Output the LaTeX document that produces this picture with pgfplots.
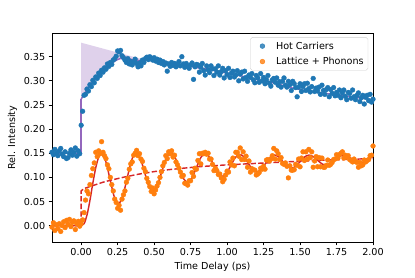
\documentclass[border=0pt]{standalone}
\usepackage{fontspec}
\setmainfont{DejaVu Sans}
\usepackage{pgfplots}
\pgfplotsset{compat=1.18}
\definecolor{tabblue}{HTML}{1F77B4}
\definecolor{taborange}{HTML}{FF7F0E}
\definecolor{tabred}{HTML}{D62728}
\definecolor{tabpurple}{HTML}{9467BD}
\begin{document}
\begin{tikzpicture}
\begin{axis}[
  scale only axis, width=334.2pt, height=217.6pt,
  xmin=-0.2, xmax=2.0, ymin=-0.034, ymax=0.399,
  xtick={0,0.25,0.5,0.75,1,1.25,1.5,1.75,2},
  ytick={0,0.05,0.1,0.15,0.2,0.25,0.3,0.35},
  tick align=outside, major tick length=3.5pt,
  tick style={black, line width=0.8pt},
  xtick pos=bottom, ytick pos=left,
  axis line style={black, line width=0.8pt},
  xticklabel style={/pgf/number format/fixed, /pgf/number format/fixed zerofill, /pgf/number format/precision=2, /pgf/number format/assume math mode=true},
  yticklabel style={/pgf/number format/fixed, /pgf/number format/fixed zerofill, /pgf/number format/precision=2, /pgf/number format/assume math mode=true},
  tick label style={font=\fontsize{10}{12}\selectfont},
  label style={font=\fontsize{10}{12}\selectfont},
  xlabel={Time Delay (ps)}, ylabel={Rel. Intensity},
  legend style={at={(0.985,0.98)}, anchor=north east, draw=black!20, rounded corners=2pt,
    fill=white, fill opacity=0.8, text opacity=1, font=\fontsize{10}{12}\selectfont,
    inner sep=2.5pt, row sep=3pt},
  legend cell align=left,
  legend image code/.code={\path (0pt,0pt) (22pt,0pt); \draw[#1] plot coordinates {(10pt,0pt)};},
]
% shaded region
\addplot[fill=tabpurple, fill opacity=0.3, draw=none, forget plot] coordinates {
(0,0.379)(0.43,0.344)(0.40,0.342)(0.35,0.344)(0.31,0.347)(0.28,0.347)(0.25,0.344)(0.22,0.339)(0.19,0.333)(0.16,0.325)(0.13,0.316)(0.10,0.306)(0.08,0.298)(0.06,0.290)(0.04,0.282)(0.02,0.272)(0,0.262)} -- cycle;

% Hot carriers
\addplot[only marks, mark=*, mark size=2.5pt, color=tabblue] coordinates {
(-0.20,0.152)(-0.19,0.147)(-0.18,0.158)(-0.17,0.150)(-0.16,0.145)(-0.15,0.155)(-0.14,0.160)(-0.13,0.148)(-0.12,0.143)(-0.11,0.153)(-0.10,0.139)(-0.09,0.141)(-0.08,0.150)(-0.07,0.157)(-0.06,0.146)(-0.05,0.152)(-0.04,0.161)(-0.03,0.144)(-0.02,0.155)(-0.01,0.149)
(0.00,0.208)(0.01,0.237)(0.02,0.270)(0.03,0.272)(0.04,0.283)(0.05,0.279)(0.06,0.292)(0.07,0.288)(0.08,0.301)(0.09,0.296)
(0.10,0.308)(0.11,0.305)(0.12,0.316)(0.13,0.311)(0.14,0.322)(0.15,0.318)(0.16,0.327)(0.17,0.324)(0.18,0.335)(0.19,0.330)
(0.20,0.338)(0.21,0.334)(0.22,0.343)(0.23,0.346)(0.24,0.351)(0.25,0.362)(0.26,0.360)(0.27,0.363)(0.28,0.352)(0.29,0.348)
(0.30,0.343)(0.31,0.338)(0.32,0.346)(0.33,0.335)(0.34,0.340)(0.35,0.333)(0.36,0.339)(0.37,0.345)(0.38,0.336)(0.39,0.329)
(0.40,0.337)(0.41,0.331)(0.42,0.343)(0.43,0.338)(0.44,0.346)(0.45,0.349)(0.46,0.344)(0.47,0.350)(0.48,0.347)(0.49,0.343)
(0.50,0.348)(0.51,0.341)(0.52,0.345)(0.53,0.338)(0.54,0.343)(0.55,0.336)(0.56,0.340)(0.57,0.333)(0.58,0.337)(0.59,0.320)
(0.60,0.335)(0.61,0.330)(0.62,0.338)(0.63,0.332)(0.64,0.336)(0.65,0.329)(0.66,0.334)(0.67,0.340)(0.68,0.331)(0.69,0.350)
(0.70,0.335)(0.71,0.328)(0.72,0.336)(0.73,0.330)(0.74,0.326)(0.75,0.333)(0.76,0.337)(0.77,0.303)(0.78,0.329)(0.79,0.334)
(0.80,0.333)(0.81,0.318)(0.82,0.328)(0.83,0.336)(0.84,0.321)(0.85,0.312)(0.86,0.331)(0.87,0.323)(0.88,0.317)(0.89,0.331)
(0.90,0.325)(0.91,0.311)(0.92,0.325)(0.93,0.318)(0.94,0.331)(0.95,0.312)(0.96,0.319)(0.97,0.326)(0.98,0.306)(0.99,0.321)
(1.00,0.313)(1.01,0.326)(1.02,0.307)(1.03,0.316)(1.04,0.320)(1.05,0.308)(1.06,0.312)(1.07,0.321)(1.08,0.300)(1.09,0.314)
(1.10,0.318)(1.11,0.304)(1.12,0.320)(1.13,0.307)(1.14,0.299)(1.15,0.312)(1.16,0.307)(1.17,0.315)(1.18,0.302)(1.19,0.296)
(1.20,0.311)(1.21,0.306)(1.22,0.297)(1.23,0.315)(1.24,0.300)(1.25,0.307)(1.26,0.294)(1.27,0.302)(1.28,0.311)(1.29,0.295)
(1.30,0.289)(1.31,0.302)(1.32,0.305)(1.33,0.297)(1.34,0.306)(1.35,0.291)(1.36,0.298)(1.37,0.287)(1.38,0.299)(1.39,0.306)
(1.40,0.291)(1.41,0.287)(1.42,0.299)(1.43,0.292)(1.44,0.280)(1.45,0.299)(1.46,0.294)(1.47,0.286)(1.48,0.267)(1.49,0.287)
(1.50,0.294)(1.51,0.278)(1.52,0.288)(1.53,0.294)(1.54,0.280)(1.55,0.295)(1.56,0.284)(1.57,0.277)(1.58,0.288)(1.59,0.305)
(1.60,0.278)(1.61,0.285)(1.62,0.279)(1.63,0.287)(1.64,0.272)(1.65,0.291)(1.66,0.280)(1.67,0.272)(1.68,0.282)(1.69,0.286)
(1.70,0.267)(1.71,0.282)(1.72,0.274)(1.73,0.286)(1.74,0.269)(1.75,0.276)(1.76,0.270)(1.77,0.281)(1.78,0.265)(1.79,0.275)
(1.80,0.281)(1.81,0.268)(1.82,0.261)(1.83,0.276)(1.84,0.274)(1.85,0.264)(1.86,0.281)(1.87,0.267)(1.88,0.261)(1.89,0.270)
(1.90,0.275)(1.91,0.257)(1.92,0.265)(1.93,0.270)(1.94,0.252)(1.95,0.266)(1.96,0.270)(1.97,0.259)(1.98,0.272)(1.99,0.256)(2.00,0.262)};
\addlegendentry{Hot Carriers}

% Lattice + Phonons
\addplot[only marks, mark=*, mark size=2.5pt, color=taborange] coordinates {
(-0.20,-0.003)(-0.19,0.006)(-0.18,-0.010)(-0.17,0.002)(-0.16,-0.006)(-0.15,0.004)(-0.14,-0.012)(-0.13,0.000)(-0.12,0.008)(-0.11,-0.004)(-0.10,0.011)(-0.09,0.003)(-0.08,0.013)(-0.07,-0.002)(-0.06,0.007)(-0.05,0.010)(-0.04,-0.008)(-0.03,0.004)(-0.02,0.009)(-0.01,-0.001)
(0.00,0.004)(0.01,0.012)(0.02,0.027)(0.03,0.053)(0.04,0.072)(0.05,0.066)(0.06,0.085)(0.07,0.104)(0.08,0.118)(0.09,0.130)
(0.10,0.152)(0.11,0.143)(0.12,0.155)(0.13,0.149)(0.14,0.174)(0.15,0.152)(0.16,0.145)(0.17,0.139)(0.18,0.126)(0.19,0.118)
(0.20,0.100)(0.21,0.085)(0.22,0.072)(0.23,0.055)(0.24,0.048)(0.25,0.036)(0.26,0.042)(0.27,0.032)(0.28,0.055)(0.29,0.064)
(0.30,0.072)(0.31,0.090)(0.32,0.098)(0.33,0.117)(0.34,0.128)(0.35,0.132)(0.36,0.146)(0.37,0.150)(0.38,0.156)(0.39,0.145)
(0.40,0.149)(0.41,0.138)(0.42,0.133)(0.43,0.119)(0.44,0.112)(0.45,0.098)(0.46,0.090)(0.47,0.081)(0.48,0.071)(0.49,0.078)
(0.50,0.066)(0.51,0.074)(0.52,0.082)(0.53,0.089)(0.54,0.100)(0.55,0.112)(0.56,0.124)(0.57,0.131)(0.58,0.145)(0.59,0.139)
(0.60,0.153)(0.61,0.149)(0.62,0.155)(0.63,0.142)(0.64,0.146)(0.65,0.132)(0.66,0.126)(0.67,0.119)(0.68,0.111)(0.69,0.102)
(0.70,0.104)(0.71,0.088)(0.72,0.087)(0.73,0.084)(0.74,0.093)(0.75,0.093)(0.76,0.110)(0.77,0.102)(0.78,0.119)(0.79,0.117)
(0.80,0.135)(0.81,0.149)(0.82,0.128)(0.83,0.150)(0.84,0.149)(0.85,0.152)(0.86,0.148)(0.87,0.150)(0.88,0.138)(0.89,0.138)
(0.90,0.127)(0.91,0.114)(0.92,0.119)(0.93,0.114)(0.94,0.106)(0.95,0.107)(0.96,0.099)(0.97,0.091)(0.98,0.096)(0.99,0.105)
(1.00,0.113)(1.01,0.111)(1.02,0.132)(1.03,0.126)(1.04,0.140)(1.05,0.124)(1.06,0.152)(1.07,0.152)(1.08,0.144)(1.09,0.161)
(1.10,0.137)(1.11,0.153)(1.12,0.137)(1.13,0.144)(1.14,0.121)(1.15,0.134)(1.16,0.111)(1.17,0.118)(1.18,0.116)(1.19,0.115)
(1.20,0.105)(1.21,0.107)(1.22,0.110)(1.23,0.119)(1.24,0.117)(1.25,0.123)(1.26,0.117)(1.27,0.136)(1.28,0.137)(1.29,0.134)
(1.30,0.138)(1.31,0.145)(1.32,0.160)(1.33,0.138)(1.34,0.155)(1.35,0.149)(1.36,0.137)(1.37,0.141)(1.38,0.129)(1.39,0.127)
(1.40,0.130)(1.41,0.123)(1.42,0.099)(1.43,0.124)(1.44,0.115)(1.45,0.115)(1.46,0.116)(1.47,0.127)(1.48,0.125)(1.49,0.138)
(1.50,0.122)(1.51,0.140)(1.52,0.153)(1.53,0.135)(1.54,0.153)(1.55,0.138)(1.56,0.158)(1.57,0.141)(1.58,0.153)(1.59,0.121)
(1.60,0.134)(1.61,0.143)(1.62,0.122)(1.63,0.141)(1.64,0.122)(1.65,0.140)(1.66,0.121)(1.67,0.121)(1.68,0.125)(1.69,0.136)
(1.70,0.125)(1.71,0.127)(1.72,0.131)(1.73,0.137)(1.74,0.138)(1.75,0.147)(1.76,0.140)(1.77,0.147)(1.78,0.150)(1.79,0.153)
(1.80,0.140)(1.81,0.146)(1.82,0.142)(1.83,0.145)(1.84,0.137)(1.85,0.135)(1.86,0.132)(1.87,0.138)(1.88,0.133)(1.89,0.131)
(1.90,0.121)(1.91,0.131)(1.92,0.124)(1.93,0.126)(1.94,0.136)(1.95,0.132)(1.96,0.135)(1.97,0.137)(1.98,0.145)(1.99,0.146)(2.00,0.165)};
\addlegendentry{Lattice + Phonons}

% purple fit
\addplot[tabpurple, line width=1.5pt, forget plot] coordinates {(-0.2,0.15)(0,0.15)(0,0.262)};
\addplot[tabpurple, line width=1.5pt, smooth, forget plot] coordinates {
(0,0.262)(0.02,0.272)(0.04,0.282)(0.06,0.290)(0.08,0.298)(0.10,0.306)(0.13,0.316)(0.16,0.325)(0.19,0.333)(0.22,0.339)(0.25,0.344)(0.28,0.347)(0.31,0.347)(0.35,0.344)(0.40,0.342)(0.45,0.345)(0.50,0.345)(0.55,0.341)(0.60,0.336)(0.65,0.334)(0.70,0.332)(0.75,0.330)(0.80,0.327)(0.85,0.325)(0.90,0.322)(0.95,0.319)(1.00,0.316)(1.05,0.313)(1.10,0.310)(1.15,0.306)(1.20,0.303)(1.25,0.300)(1.30,0.297)(1.35,0.293)(1.40,0.289)(1.45,0.285)(1.50,0.282)(1.55,0.279)(1.60,0.277)(1.65,0.275)(1.70,0.273)(1.75,0.271)(1.80,0.269)(1.85,0.267)(1.90,0.265)(1.95,0.263)(2.00,0.261)};

% red oscillating fit
\addplot[tabred, line width=1.5pt, smooth, forget plot] coordinates {
(-0.2,0)(-0.02,0)(0,0)(0.02,0.004)(0.04,0.022)(0.06,0.052)(0.08,0.088)(0.10,0.120)(0.12,0.142)(0.140,0.1487)(0.1696,0.1324)(0.1993,0.094)(0.2289,0.0578)(0.2585,0.0459)(0.2881,0.0645)(0.3178,0.102)(0.3474,0.1371)(0.3770,0.1512)(0.4066,0.1385)(0.4363,0.1088)(0.4659,0.0811)(0.4955,0.0719)(0.5251,0.0858)(0.5548,0.1142)(0.5844,0.1409)(0.6140,0.1512)(0.6436,0.1411)(0.6733,0.1182)(0.7029,0.0968)(0.7325,0.0895)(0.7621,0.1001)(0.7918,0.1218)(0.8214,0.1419)(0.8510,0.1496)(0.8806,0.1418)(0.9103,0.1242)(0.9399,0.1078)(0.9695,0.1021)(0.9991,0.1101)(1.0288,0.1264)(1.0584,0.1418)(1.0880,0.1476)(1.1176,0.1417)(1.1473,0.1282)(1.1769,0.1156)(1.2065,0.1113)(1.2361,0.1173)(1.2658,0.1300)(1.2954,0.1418)(1.3250,0.1464)(1.3546,0.1419)(1.3843,0.1318)(1.4139,0.1223)(1.4435,0.1191)(1.4731,0.1238)(1.5028,0.1335)(1.5324,0.1426)(1.5620,0.1462)(1.5916,0.1429)(1.6213,0.1352)(1.6509,0.1279)(1.6805,0.1254)(1.7101,0.1290)(1.7398,0.1364)(1.7694,0.1433)(1.7990,0.1461)(1.8286,0.1435)(1.8583,0.1376)(1.8879,0.1321)(1.9175,0.1303)(1.9471,0.1331)(1.9768,0.1388)(2.0064,0.1442)};

% red dashed fit
\addplot[tabred, line width=1.5pt, dash pattern=on 5.55pt off 2.4pt, forget plot] coordinates {
(-0.2,0)(0,0)(0,0.072)(0.02,0.077)(0.05,0.080)(0.1,0.085)(0.15,0.090)(0.2,0.094)(0.3,0.101)(0.4,0.107)(0.5,0.112)(0.6,0.116)(0.7,0.119)(0.8,0.122)(0.9,0.124)(1.0,0.126)(1.2,0.129)(1.4,0.132)(1.6,0.135)(1.8,0.137)(2.0,0.139)};
\end{axis}
\pgfresetboundingbox
\path[use as bounding box] ([xshift=-54.1pt,yshift=-36.4pt]current axis.south west) rectangle ([xshift=43.7pt,yshift=34.4pt]current axis.north east);
\end{tikzpicture}
\end{document}
